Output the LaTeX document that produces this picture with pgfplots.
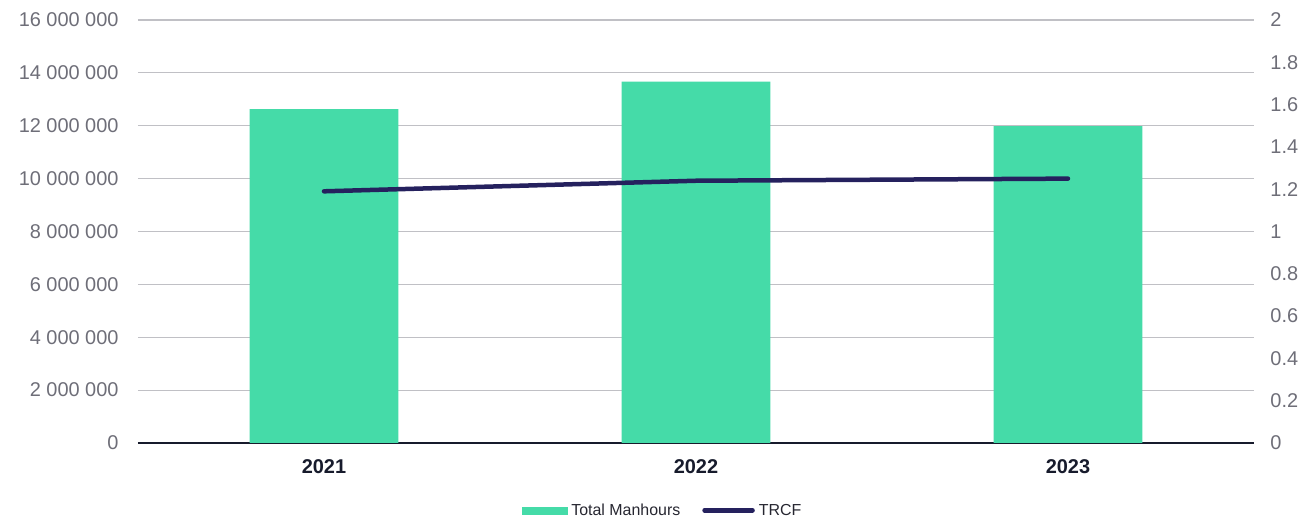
\documentclass[border=0pt]{standalone}
\usepackage{pgfplots}
\pgfplotsset{compat=1.18}
\usepackage{fontspec}
\setmainfont{Liberation Sans}
\definecolor{barc}{HTML}{45DBA8}
\definecolor{linec}{HTML}{25215E}
\definecolor{tickc}{HTML}{6E6E78}
\definecolor{gridc}{HTML}{C0C0C5}
\definecolor{yearc}{HTML}{171B2C}
\definecolor{legc}{HTML}{262630}
\begin{document}
\begin{tikzpicture}
\path[use as bounding box] (-138bp,-77bp) rectangle (1166bp,443bp);
\begin{axis}[
  at={(0,0)}, anchor=south west,
  scale only axis, width=1116bp, height=423bp,
  xmin=-0.5, xmax=2.5, ymin=0, ymax=16000000,
  xtick={0,1,2}, xticklabels={2021,2022,2023},
  ytick={0,2000000,4000000,6000000,8000000,10000000,12000000,14000000,16000000},
  yticklabels={0,2 000 000,4 000 000,6 000 000,8 000 000,10 000 000,12 000 000,14 000 000,16 000 000},
  axis x line*=bottom, axis y line*=left,
  y axis line style={draw=none},
  x axis line style={color=yearc, line width=1.4bp, -},
  major tick length=0pt, tick style={draw=none},
  ymajorgrids, grid style={gridc, line width=1.2bp},
  ybar, bar width=0.4,
  scaled y ticks=false,
  yticklabel style={font=\fontsize{20}{24}\selectfont, color=tickc, xshift=-16bp},
  xticklabel style={font=\fontsize{20}{24}\selectfont\bfseries, color=yearc, yshift=-13bp},
]
\addplot[fill=barc, draw=none] coordinates {(0,12630000) (1,13670000) (2,11990000)};
\end{axis}
\begin{axis}[
  at={(0,0)}, anchor=south west,
  scale only axis, width=1116bp, height=423bp,
  xmin=-0.5, xmax=2.5, ymin=0, ymax=2,
  hide x axis,
  axis y line*=right,
  y axis line style={draw=none},
  major tick length=0pt, tick style={draw=none},
  ytick={0,0.2,0.4,0.6,0.8,1,1.2,1.4,1.6,1.8,2},
  /pgf/number format/assume math mode=true,
  yticklabel style={font=\fontsize{20}{24}\selectfont, color=tickc, xshift=13bp},
  legend style={at={(0.471,-0.159)}, anchor=center, draw=none, fill=none,
    font=\fontsize{16}{19}\selectfont, text=legc,
    legend columns=2,
    /tikz/every even column/.append style={column sep=18bp},
    nodes={inner ysep=2bp, inner xsep=4bp}},
]
\addlegendimage{legend image code/.code={\fill[barc] (0bp,-3.5bp) rectangle (45bp,3.5bp);}}
\addlegendentry{Total Manhours}
\addplot[linec, line width=4.5bp, line cap=round,
  legend image code/.code={\draw[linec, line width=4.5bp, line cap=round] (0bp,0bp) -- (48bp,0bp);}]
  coordinates {(0,1.19) (1,1.24) (2,1.25)};
\addlegendentry{TRCF}
\end{axis}
\end{tikzpicture}
\end{document}
